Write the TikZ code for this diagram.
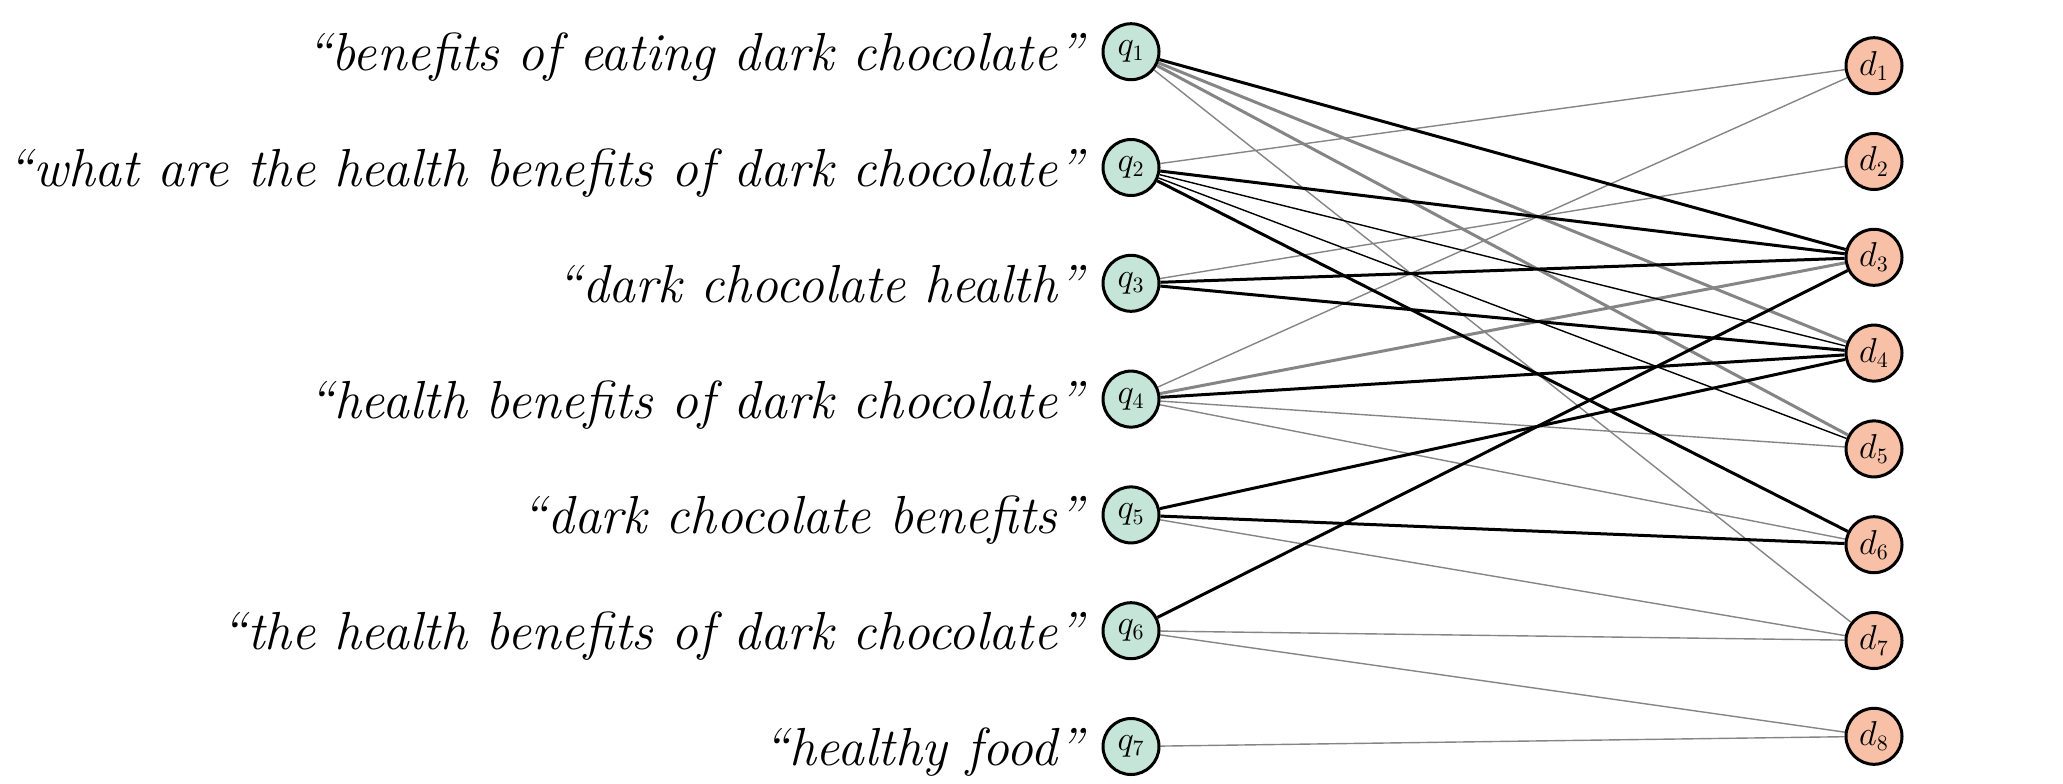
\documentclass[tikz,border=0pt]{standalone}
\usepackage{amsmath}
\usepackage{xcolor}
\definecolor{qMint}{HTML}{C5E5D9}
\definecolor{dSalmon}{HTML}{F8C0A6}
\definecolor{edgeGray}{HTML}{858585}
\usepackage{tikz}
\usetikzlibrary{calc,backgrounds}

\begin{document}
\begin{tikzpicture}[x=0.5pt, y=-0.5pt,
  qnode/.style={circle, draw=black, line width=1.5pt, fill=qMint, minimum size=28pt, inner sep=0pt, font=\fontsize{16}{16}\selectfont},
  dnode/.style={qnode, fill=dSalmon},
  qtext/.style={font=\fontsize{26.8}{27}\selectfont\itshape, inner sep=0pt},
  strong/.style={black, line width=1.5pt},
  weak/.style={black, line width=0.7pt},
  graystrong/.style={edgeGray, line width=1.5pt},
  grayweak/.style={edgeGray, line width=0.7pt}]
  \useasboundingbox (0,0) rectangle (2063,783);
  % ---------- queries ----------
  \foreach \i/\txt in {1/{benefits of eating dark chocolate},
                       2/{what are the health benefits of dark chocolate},
                       3/{dark chocolate health},
                       4/{health benefits of dark chocolate},
                       5/{dark chocolate benefits},
                       6/{the health benefits of dark chocolate},
                       7/{healthy food}} {
    \node[qnode] (q\i) at (1131, {51.7+115.8*(\i-1)}) {$q_{\i}$};
    \node[qtext, anchor=base east] (t\i) at (1083, {70.7+115.8*(\i-1)}) {“\txt”};
  }
  % ---------- documents ----------
  \foreach \j in {1,...,8}
    \node[dnode] (d\j) at (1874, {65.7+95.8*(\j-1)}) {$d_{\j}$};
  % ---------- clicks ----------
  \begin{scope}[on background layer]
    \foreach \a/\b in {1/7, 2/1, 3/2, 4/1, 4/5, 4/6, 5/7, 6/7, 6/8, 7/8}
      \draw[grayweak] (q\a) -- (d\b);
    \foreach \a/\b in {1/4, 1/5, 4/3}
      \draw[graystrong] (q\a) -- (d\b);
    \foreach \a/\b in {2/4, 2/5}
      \draw[weak] (q\a) -- (d\b);
    \foreach \a/\b in {1/3, 2/3, 2/6, 3/3, 3/4, 4/4, 5/4, 5/6, 6/3}
      \draw[strong] (q\a) -- (d\b);
  \end{scope}
\end{tikzpicture}
\end{document}
